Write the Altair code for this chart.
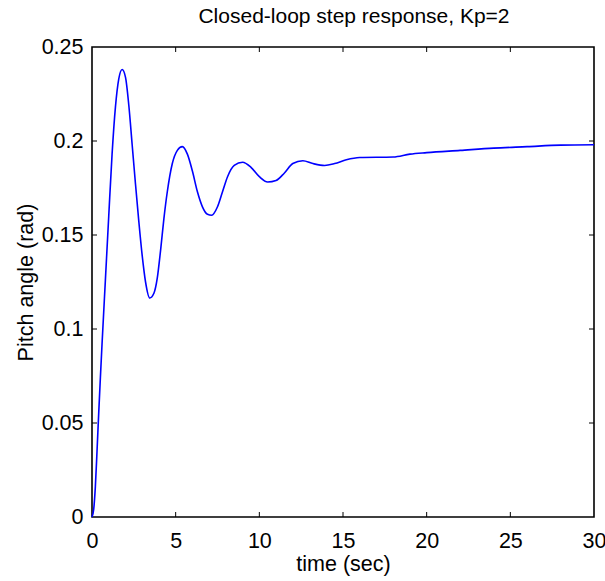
import altair as alt
import pandas as pd

# Data
time_s = [0, 0.1, 0.2, 0.3, 0.4, 0.5, 0.6, 0.8, 1.0, 1.2, 1.4, 1.6, 1.8, 2.0, 2.2, 2.4,
          2.6, 2.8, 3.0, 3.2, 3.45, 3.7, 3.9, 4.1, 4.3, 4.5, 4.8, 5.1, 5.4, 5.7, 6.0,
          6.3, 6.6, 6.9, 7.15, 7.5, 7.8, 8.1, 8.5, 9.0, 9.5, 10.0, 10.5, 11.0, 11.5,
          12.0, 12.6, 13.2, 13.9, 14.5, 15.2, 16.0, 18.0, 19.0, 20.0, 22.0, 24.0,
          26.0, 28.0, 30.0]
pitch = [0, 0.004, 0.016, 0.035, 0.055, 0.074, 0.092, 0.126, 0.160, 0.193, 0.218,
         0.233, 0.238, 0.234, 0.219, 0.198, 0.177, 0.157, 0.139, 0.125, 0.1165,
         0.119, 0.127, 0.142, 0.159, 0.173, 0.188, 0.195, 0.197, 0.193, 0.184,
         0.173, 0.165, 0.161, 0.1605, 0.165, 0.173, 0.181, 0.187, 0.1887, 0.186,
         0.181, 0.1782, 0.179, 0.183, 0.188, 0.1895, 0.188, 0.187, 0.188, 0.190,
         0.1912, 0.1915, 0.193, 0.1938, 0.195, 0.1962, 0.197, 0.1978, 0.198]

x_ticks = [0, 5, 10, 15, 20, 25, 30]
y_ticks = [0, 0.05, 0.1, 0.15, 0.2, 0.25]

FONT = "Liberation Sans"
FS = 21.5

df = pd.DataFrame({"t": time_s, "y": pitch})
dfx = pd.DataFrame({"t": x_ticks[1:-1]})
dfy = pd.DataFrame({"y": y_ticks[1:-1]})

xscale = alt.Scale(domain=[0, 30], nice=False, zero=False)
yscale = alt.Scale(domain=[0, 0.25], nice=False, zero=False)

axis_style = dict(ticks=False, domain=False, grid=False, labelFlush=False,
                  labelOverlap=False, format="~g",
                  labelFont=FONT, labelFontSize=FS, labelColor="black",
                  titleFont=FONT, titleFontSize=FS, titleFontWeight="normal",
                  titleColor="black")

line = alt.Chart(df).mark_line(color="#0000ff", strokeWidth=1.6, interpolate="monotone").encode(
    x=alt.X("t:Q", scale=xscale,
            axis=alt.Axis(values=x_ticks, title="time (sec)", labelPadding=13,
                          titlePadding=2, **axis_style)),
    y=alt.Y("y:Q", scale=yscale,
            axis=alt.Axis(values=y_ticks, title="Pitch angle (rad)", labelPadding=9,
                          titlePadding=4, **axis_style)),
)

tick_len = 5
bottom = alt.Chart(dfx).mark_rule(color="black", y2Offset=-tick_len).encode(
    x="t:Q", y=alt.datum(0, scale=yscale), y2=alt.datum(0))
top = alt.Chart(dfx).mark_rule(color="black", y2Offset=tick_len).encode(
    x="t:Q", y=alt.datum(0.25), y2=alt.datum(0.25))
left = alt.Chart(dfy).mark_rule(color="black", x2Offset=tick_len).encode(
    y="y:Q", x=alt.datum(0), x2=alt.datum(0))
right = alt.Chart(dfy).mark_rule(color="black", x2Offset=-tick_len).encode(
    y="y:Q", x=alt.datum(30), x2=alt.datum(30))

chart = alt.layer(line, bottom, top, left, right).properties(
    width=502, height=470,
    background="white",
    title=alt.TitleParams("Closed-loop step response, Kp=2", font=FONT, fontSize=21,
                          fontWeight="normal", color="black", anchor="middle",
                          frame="group", offset=9, dx=11),
    autosize=alt.AutoSizeParams(type="none"),
    padding={"left": 92, "top": 47, "right": 11, "bottom": 64},
).configure_view(stroke="black", strokeWidth=1.6)

chart.save("out.html", embed_options={"renderer": "svg", "actions": False})
